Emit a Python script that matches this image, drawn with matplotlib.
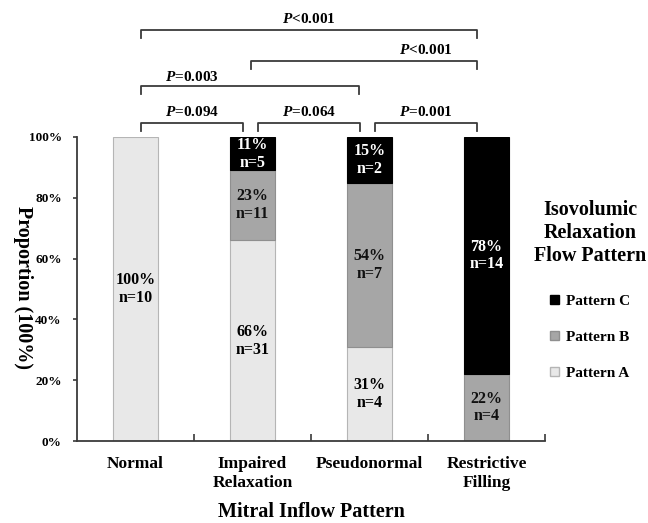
import matplotlib
matplotlib.use("Agg")
import matplotlib.pyplot as plt
from matplotlib.patches import Patch
import numpy as np

plt.rcParams["font.family"] = ["Liberation Serif", "DejaVu Serif"]
plt.rcParams["font.weight"] = "bold"
plt.rcParams["mathtext.fontset"] = "custom"
plt.rcParams["mathtext.it"] = "Liberation Serif:italic:bold"
plt.rcParams["mathtext.rm"] = "Liberation Serif:bold"

# data
categories = ["Normal", "Impaired\nRelaxation", "Pseudonormal", "Restrictive\nFilling"]
pattern_a = [100, 66, 31, 0]
pattern_b = [0, 23, 54, 22]
pattern_c = [0, 11, 15, 78]
n_a = [10, 31, 4, 0]
n_b = [0, 11, 7, 4]
n_c = [0, 5, 2, 14]
yticks = [0, 20, 40, 60, 80, 100]

# pairwise comparisons (group i, group j, p-value text)
comparisons = [
    (0, 1, "$P$=0.094"),
    (1, 2, "$P$=0.064"),
    (2, 3, "$P$=0.001"),
    (0, 2, "$P$=0.003"),
    (1, 3, "$P$<0.001"),
    (0, 3, "$P$<0.001"),
]

col_a, col_b, col_c = "#e8e8e8", "#a6a6a6", "#000000"
edge_a, edge_b = "#b5b5b5", "#8f8f8f"
spine_col = "#3a3a3a"

fig = plt.figure(figsize=(6.48, 5.23), dpi=100)
ax = fig.add_axes([77 / 648, 82 / 523, 468 / 648, 304 / 523])

x = np.arange(len(categories))
w = 0.39
a = np.array(pattern_a)
b = np.array(pattern_b)
c = np.array(pattern_c)


def lw(vals):
    return [0.8 if v > 0 else 0 for v in vals]


ax.bar(x, a, w, color=col_a, edgecolor=edge_a, linewidth=lw(a))
ax.bar(x, b, w, bottom=a, color=col_b, edgecolor=edge_b, linewidth=lw(b))
ax.bar(x, c, w, bottom=a + b, color=col_c, edgecolor=col_c, linewidth=lw(c))

for i in x:
    segs = [(a[i], 0, n_a[i], "black"), (b[i], a[i], n_b[i], "#111111"),
            (c[i], a[i] + b[i], n_c[i], "white")]
    for val, base, n, tc in segs:
        if val <= 0:
            continue
        ax.text(i, base + val / 2, f"{val}%\nn={n}", ha="center", va="center",
                fontsize=11.5, color=tc, linespacing=1.15, fontweight="bold")

ax.set_xlim(-0.5, 3.5)
ax.set_ylim(0, 100)
ax.set_yticks(yticks)
ax.set_yticklabels([f"{t}%" for t in yticks], fontsize=9.5, fontweight="bold")
ax.set_xticks(x)
ax.set_xticklabels(categories, fontsize=12.5, fontweight="bold", linespacing=1.25)
ax.tick_params(axis="x", length=0, pad=11)
ax.set_xticks([0.5, 1.5, 2.5, 3.5], minor=True)
ax.tick_params(axis="x", which="minor", direction="in", length=5, width=1.2, color=spine_col)
ax.tick_params(axis="y", direction="out", length=3, width=1.2, color=spine_col, pad=8)
for s in ["top", "right"]:
    ax.spines[s].set_visible(False)
for s in ["left", "bottom"]:
    ax.spines[s].set_color(spine_col)
    ax.spines[s].set_linewidth(1.3)

fig.text(311 / 648, 1 - 512 / 523, "Mitral Inflow Pattern", ha="center", va="center",
         fontsize=14.5, fontweight="bold")
fig.text(23 / 648, 1 - 288 / 523, "Proportion (100%)", ha="center", va="center",
         rotation=-90, fontsize=14.5, fontweight="bold")

# significance brackets: line height / text height (data units), per comparison
line_y = [104.6, 104.6, 104.6, 116.8, 125.0, 135.2]
text_y = [108.3, 108.3, 108.3, 119.8, 128.6, 138.8]
line_x0 = [0.047, 1.047, 2.047, 0.047, 0.987, 0.047]
line_x1 = [0.92, 1.92, 2.92, 1.91, 2.92, 2.92]
text_x = [0.48, 1.48, 2.48, 0.48, 2.48, 1.48]
for k, (i, j, txt) in enumerate(comparisons):
    x0, x1, yl = line_x0[k], line_x1[k], line_y[k]
    ax.plot([x0, x0, x1, x1], [yl - 2.5, yl, yl, yl - 2.5],
            color=spine_col, lw=1.3, clip_on=False)
    ax.text(text_x[k], text_y[k], txt, ha="center", va="center", fontsize=11,
            clip_on=False)

handles = [Patch(facecolor=col_c, edgecolor=col_c),
           Patch(facecolor=col_b, edgecolor=edge_b),
           Patch(facecolor=col_a, edgecolor=edge_a)]
leg = fig.legend(handles, ["Pattern C", "Pattern B", "Pattern A"],
                 title="Isovolumic\nRelaxation\nFlow Pattern",
                 loc="upper center", bbox_to_anchor=(590 / 648, 1 - 186 / 523),
                 frameon=False, fontsize=11, handlelength=0.55, handleheight=0.55,
                 handletextpad=0.45, labelspacing=1.5,
                 title_fontproperties={"size": 14.5, "weight": "bold"})
leg.get_title().set_multialignment("center")
leg.get_title().set_linespacing(1.2)
leg._legend_box.sep = 21

fig.savefig("out.png", dpi=100)
